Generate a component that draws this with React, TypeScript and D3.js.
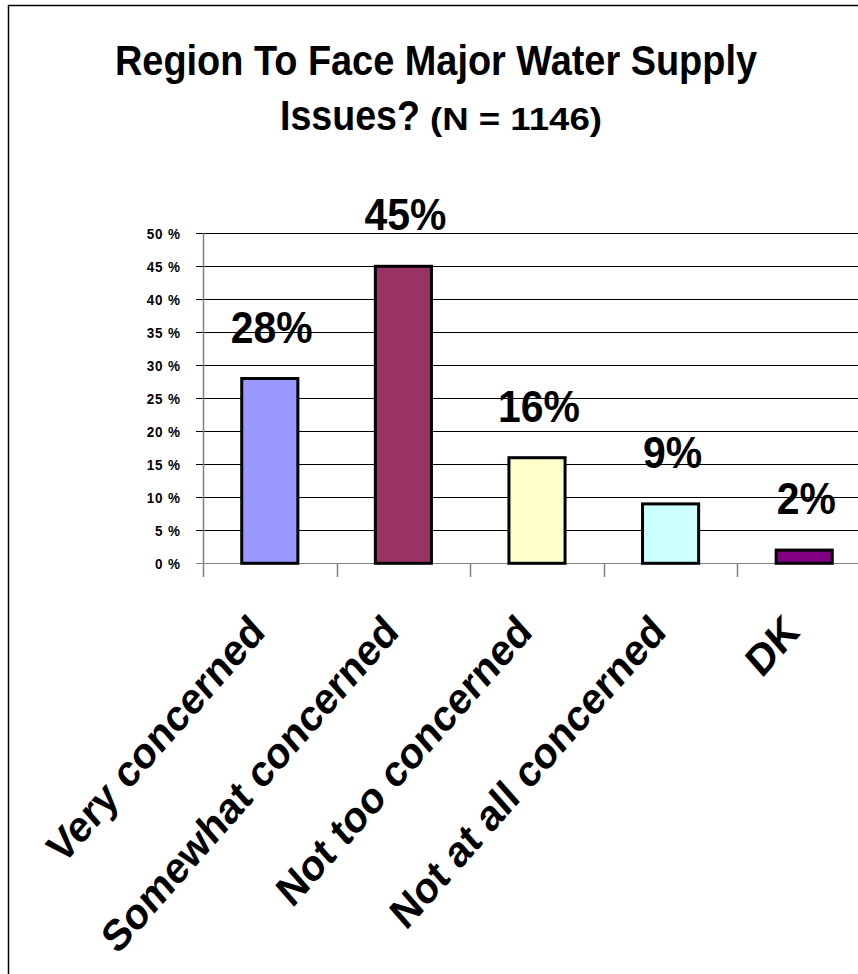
import React from "react";
import * as d3 from "d3";

const categories = ["Very concerned", "Somewhat concerned", "Not too concerned", "Not at all concerned", "DK"];
const values = [28, 45, 16, 9, 2];
const barColors = ["#9999FF", "#993366", "#FFFFCC", "#CCFFFF", "#800080"];
const yTicks = [0, 5, 10, 15, 20, 25, 30, 35, 40, 45, 50];
const titleLine1 = "Region To Face Major Water Supply";
const titleLine2a = "Issues?";
const titleLine2b = "(N = 1146)";

const W = 858;
const H = 974;
const FONT = "'Liberation Sans', Arial, Helvetica, sans-serif";
const SX = 0.9;

export default function App() {
  const plotLeft = 203;
  const band = 133.6;
  const x = d3
    .scaleBand<string>()
    .domain(categories)
    .range([plotLeft, plotLeft + band * categories.length])
    .paddingInner(0.58)
    .paddingOuter(0.29);
  const y = d3.scaleLinear().domain([0, 50]).range([563.3, 233.3]);
  const bandStart = (c: string) => plotLeft + categories.indexOf(c) * band;

  return (
    <svg
      width={W}
      height={H}
      style={{ position: "absolute", left: 0, top: 0, background: "#fff" }}
      fontFamily={FONT}
    >
      <rect x={0} y={0} width={W} height={H} fill="#fff" />
      {/* outer frame */}
      <path d={`M8.5,${H + 5} V5.5 H${W + 5}`} fill="none" stroke="#000" strokeWidth={1.5} />

      {/* title */}
      <text x={115} y={75} fontSize={42} fontWeight="bold" textLength={642} lengthAdjust="spacingAndGlyphs">
        {titleLine1}
      </text>
      <text x={280} y={130} fontSize={42} fontWeight="bold" textLength={140} lengthAdjust="spacingAndGlyphs">
        {titleLine2a}
      </text>
      <text x={430} y={130} fontSize={32} fontWeight="bold" textLength={172} lengthAdjust="spacingAndGlyphs">
        {titleLine2b}
      </text>

      {/* gridlines */}
      {yTicks.map((t) => (
        <line
          key={"g" + t}
          x1={196}
          x2={W}
          y1={Math.round(y(t)) + 0.5}
          y2={Math.round(y(t)) + 0.5}
          stroke={t === 0 ? "#808080" : "#000"}
          strokeWidth={1}
        />
      ))}
      {/* y axis */}
      <line x1={203.5} x2={203.5} y1={y(50)} y2={577} stroke="#808080" strokeWidth={1.5} />
      {/* category ticks */}
      {categories.map((c, i) =>
        i === 0 ? null : (
          <line
            key={"ct" + c}
            x1={Math.round(bandStart(c)) + 0.5}
            x2={Math.round(bandStart(c)) + 0.5}
            y1={y(0)}
            y2={577}
            stroke="#808080"
            strokeWidth={1.5}
          />
        )
      )}
      {/* y tick labels */}
      {yTicks.map((t) => (
        <text
          key={"yl" + t}
          transform={`translate(181,${y(t)}) scale(${SX},1)`}
          dy="0.36em"
          textAnchor="end"
          fontSize={15}
          fontWeight="bold"
          letterSpacing={1}
        >
          {t + " %"}
        </text>
      ))}

      {/* bars */}
      {categories.map((c, i) => (
        <rect
          key={"b" + c}
          x={x(c)}
          y={y(values[i])}
          width={x.bandwidth()}
          height={y(0) - y(values[i])}
          fill={barColors[i]}
          stroke="#000"
          strokeWidth={3}
        />
      ))}
      {/* value labels */}
      {categories.map((c, i) => (
        <text
          key={"v" + c}
          transform={`translate(${(x(c) as number) + x.bandwidth() / 2 + 2},${y(values[i]) - 36}) scale(0.93,1)`}
          textAnchor="middle"
          fontSize={44}
          fontWeight="bold"
        >
          {values[i] + "%"}
        </text>
      ))}

      {/* category labels */}
      {categories.map((c) => {
        const cx = (x(c) as number) + x.bandwidth() / 2 - 3;
        const cy = 634;
        return (
          <text
            key={"cl" + c}
            transform={`translate(${cx},${cy}) scale(0.88,1) rotate(-45)`}
            textAnchor="end"
            fontSize={44}
            fontWeight="bold"
          >
            {c}
          </text>
        );
      })}
    </svg>
  );
}
